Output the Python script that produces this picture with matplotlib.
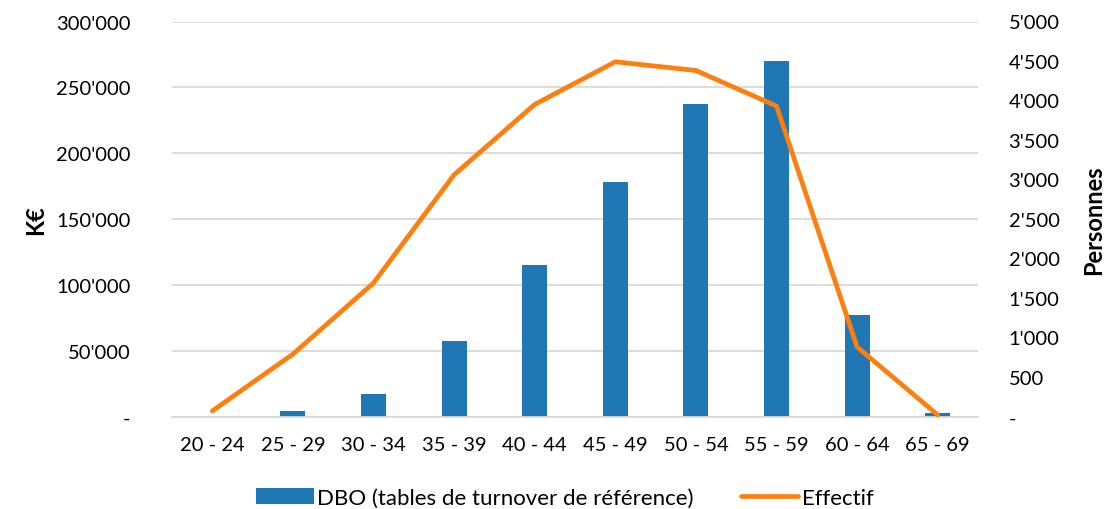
import numpy as np
import matplotlib.pyplot as plt
from matplotlib.ticker import FuncFormatter, MultipleLocator

# age bands and values
age_bands = ["20 - 24", "25 - 29", "30 - 34", "35 - 39", "40 - 44",
             "45 - 49", "50 - 54", "55 - 59", "60 - 64", "65 - 69"]
dbo_keur = [0, 4000, 17000, 57000, 115000, 178000, 237000, 270000, 77000, 3000]
effectif = [70, 790, 1690, 3060, 3950, 4490, 4380, 3930, 880, 20]

plt.rcParams['font.family'] = ['Lato', 'DejaVu Sans']
plt.rcParams['font.size'] = 14.5


def fmt_thousands(v, pos):
    if abs(v) < 1e-9:
        return "-"
    return f"{int(round(v)):,}".replace(",", "'")


fig = plt.figure(figsize=(11.12, 5.10), dpi=100)
ax = fig.add_axes([172 / 1112, 1 - 417.5 / 510, 806 / 1112, 395 / 510])
ax2 = ax.twinx()

x = np.arange(len(age_bands))
bars = ax.bar(x, dbo_keur, width=0.31, color="#1f77b4",
              label="DBO (tables de turnover de référence)", zorder=2)
line, = ax2.plot(x, effectif, color="#ff7f0e", lw=3.4,
                 solid_capstyle="round", label="Effectif", zorder=3)

ax.set_xlim(-0.5, len(age_bands) - 0.5)
ax.set_ylim(0, 300000)
ax2.set_ylim(0, 5000)
ax.yaxis.set_major_locator(MultipleLocator(50000))
ax2.yaxis.set_major_locator(MultipleLocator(500))
ax.yaxis.set_major_formatter(FuncFormatter(fmt_thousands))
ax2.yaxis.set_major_formatter(FuncFormatter(fmt_thousands))

ax.set_xticks(x)
ax.set_xticklabels(age_bands)
ax.grid(axis="y", color="#d9d9d9", lw=1.3, zorder=0)
ax.set_axisbelow(True)

for a in (ax, ax2):
    for s in ("top", "left", "right", "bottom"):
        a.spines[s].set_visible(False)
    a.tick_params(length=0, colors="#000000")
ax.spines["bottom"].set_visible(True)
ax.spines["bottom"].set_color("#d9d9d9")
ax.spines["bottom"].set_linewidth(1.3)
ax.tick_params(axis="x", pad=14)
ax.tick_params(axis="y", pad=30)
ax2.tick_params(axis="y", pad=22)
ax.set_zorder(ax2.get_zorder() - 1)
ax2.patch.set_visible(False)

ax.set_ylabel("K€", fontweight="bold", fontsize=17, labelpad=6)
ax2.set_ylabel("Personnes", fontweight="bold", fontsize=17, labelpad=16)

fig.legend([bars, line], [bars.get_label(), line.get_label()],
           loc="center", bbox_to_anchor=(0.508, 1 - 499 / 510), ncol=2,
           frameon=False, handlelength=2.6, handletextpad=0.15,
           columnspacing=2.1, fontsize=16)

fig.savefig("out.png", dpi=100)
